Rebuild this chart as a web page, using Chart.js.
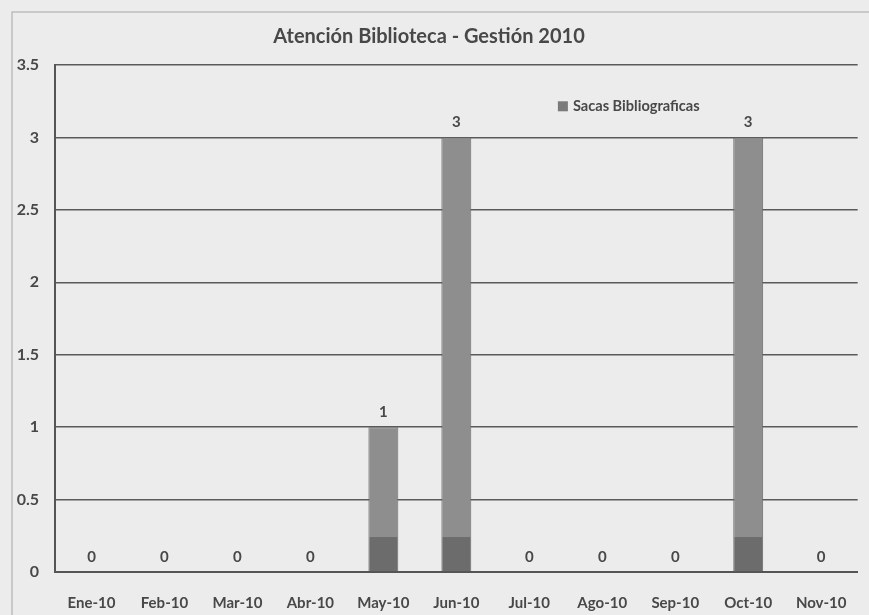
<!DOCTYPE html>
<html>
<head>
<meta charset="utf-8">
<script src="https://cdn.jsdelivr.net/npm/chart.js@4"></script>
<style>
  html, body { margin: 0; padding: 0; background: #ececec; }
  #wrap { width: 869px; height: 615px; position: relative; }
  canvas { display: block; }
</style>
</head>
<body>
<div id="wrap"><canvas id="c" width="869" height="615"></canvas></div>
<script>
const categories = ['Ene-10','Feb-10','Mar-10','Abr-10','May-10','Jun-10','Jul-10','Ago-10','Sep-10','Oct-10','Nov-10'];
const sacasBibliograficas = [0, 0, 0, 0, 1, 3, 0, 0, 0, 3, 0];
const seriesName = 'Sacas Bibliograficas';
const titleText = 'Atención Biblioteca - Gestión 2010';
const yTicks = [0, 0.5, 1, 1.5, 2, 2.5, 3, 3.5];

const FONT = 'Lato';
const TXT = '#484848';

const framePlugin = {
  id: 'frame',
  beforeDraw(chart) {
    const ctx = chart.ctx;
    ctx.save();
    ctx.fillStyle = '#ececec';
    ctx.fillRect(0, 0, chart.width, chart.height);
    ctx.strokeStyle = '#bdbdbd';
    ctx.lineWidth = 1.5;
    ctx.strokeRect(12, 12, chart.width - 8, chart.height + 10);
    ctx.restore();
  }
};

const labelsPlugin = {
  id: 'valueLabels',
  afterDatasetsDraw(chart) {
    const ctx = chart.ctx;
    const meta = chart.getDatasetMeta(0);
    ctx.save();
    ctx.font = 'bold 15px ' + FONT;
    ctx.fillStyle = TXT;
    ctx.textAlign = 'center';
    ctx.textBaseline = 'middle';
    meta.data.forEach((bar, i) => {
      ctx.fillText(String(sacasBibliograficas[i]), bar.x, bar.y - 15);
    });
    const ca = chart.chartArea;
    const lx = ca.left + (ca.right - ca.left) * 0.6265;
    const ly = chart.scales.y.getPixelForValue(3.215);
    ctx.fillStyle = '#7a7a7a';
    ctx.fillRect(lx, ly - 5, 10, 10);
    ctx.fillStyle = TXT;
    ctx.textAlign = 'left';
    ctx.font = 'bold 14.6px ' + FONT;
    ctx.fillText(seriesName, lx + 15, ly);
    ctx.restore();
  }
};

function barFill(context) {
  const chart = context.chart;
  const y = chart.scales && chart.scales.y;
  if (!chart.chartArea || !y) return '#8e8e8e';
  const y0 = y.getPixelForValue(0);
  const y1 = y.getPixelForValue(3.5);
  if (!isFinite(y0) || !isFinite(y1) || y0 === y1) return '#8e8e8e';
  const g = chart.ctx.createLinearGradient(0, y0, 0, y1);
  g.addColorStop(0, '#6c6c6c');
  g.addColorStop(0.068, '#6c6c6c');
  g.addColorStop(0.069, '#8e8e8e');
  g.addColorStop(1, '#8e8e8e');
  return g;
}

new Chart(document.getElementById('c'), {
  type: 'bar',
  data: {
    labels: categories,
    datasets: [{
      label: seriesName,
      data: sacasBibliograficas,
      backgroundColor: barFill,
      borderColor: '#6a6a6a',
      borderWidth: 1,
      categoryPercentage: 0.82,
      barPercentage: 0.5
    }]
  },
  options: {
    responsive: false,
    animation: false,
    devicePixelRatio: 1,
    layout: { padding: { left: 0, right: 11, top: 0, bottom: 0 } },
    plugins: {
      legend: { display: false },
      tooltip: { enabled: false },
      title: {
        display: true,
        text: titleText,
        color: TXT,
        font: { family: FONT, size: 20, weight: 'bold' },
        padding: { top: 25, bottom: 16 }
      }
    },
    scales: {
      x: {
        offset: true,
        grid: { display: false, drawTicks: false },
        border: { display: true, color: '#555', width: 2 },
        ticks: {
          color: TXT,
          padding: 22,
          maxRotation: 0,
          autoSkip: false,
          font: { family: FONT, size: 15, weight: 'bold' }
        },
        afterFit(scale) { scale.height = 43; }
      },
      y: {
        min: 0,
        max: 3.5,
        afterBuildTicks(scale) { scale.ticks = yTicks.map(v => ({ value: v })); },
        grid: { color: '#5a5a5a', lineWidth: 1.5, drawTicks: false },
        border: { display: true, color: '#555', width: 2 },
        ticks: {
          color: TXT,
          padding: 16,
          font: { family: FONT, size: 16, weight: 'bold' },
          callback: (v) => String(v)
        },
        afterFit(scale) { scale.width = 55; }
      }
    }
  },
  plugins: [framePlugin, labelsPlugin]
});
</script>
</body>
</html>
